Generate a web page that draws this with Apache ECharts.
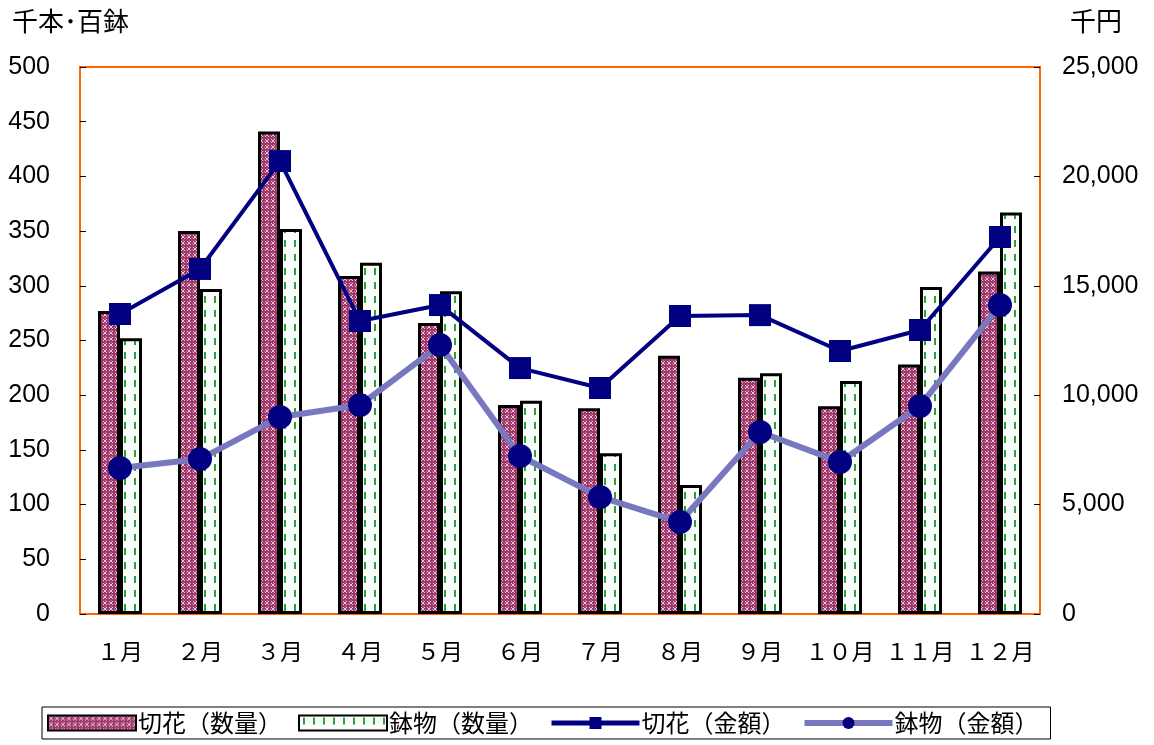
<!DOCTYPE html>
<html>
<head>
<meta charset="utf-8">
<script src="https://cdn.jsdelivr.net/npm/echarts@6/dist/echarts.min.js"></script>
<style>
  html, body { margin: 0; padding: 0; background: #fff; }
  #chart { width: 1154px; height: 745px; }
</style>
</head>
<body>
<div id="chart"></div>
<script>
// data
var months = ["１月", "２月", "３月", "４月", "５月", "６月", "７月", "８月", "９月", "１０月", "１１月", "１２月"];
var cutQty = [277, 350, 441, 309, 266, 191, 188, 236, 216, 190, 228, 313];
var potQty = [252, 297, 352, 321, 295, 195, 147, 118, 220, 213, 299, 367];
var cutAmt = [13710, 15770, 20700, 13390, 14120, 11240, 10330, 13620, 13660, 12020, 12980, 17230];
var potAmt = [6670, 7080, 9000, 9550, 12290, 7220, 5350, 4200, 8320, 6950, 9510, 14120];
var leftTicks = [0, 500, 50];
var rightTicks = [0, 25000, 5000];

// fill patterns like the old excel chart
function makePink() {
  var c = document.createElement("canvas");
  c.width = 6; c.height = 6;
  var g = c.getContext("2d");
  g.fillStyle = "#9e386a";
  g.fillRect(0, 0, 6, 6);
  g.fillStyle = "#ecc3d5";
  g.fillRect(1, 1, 1, 1); g.fillRect(4, 1, 1, 1);
  g.fillRect(2, 2, 2, 2);
  g.fillRect(1, 4, 1, 1); g.fillRect(4, 4, 1, 1);
  g.fillStyle = "#c67a9c";
  g.fillRect(0, 3, 1, 1); g.fillRect(3, 0, 1, 1);
  return c;
}
function makeGreen() {
  var c = document.createElement("canvas");
  c.width = 10; c.height = 14;
  var g = c.getContext("2d");
  g.fillStyle = "#fbfdfb";
  g.fillRect(0, 0, 10, 14);
  g.fillStyle = "#2aa336";
  g.fillRect(4, 2, 2, 7);
  return c;
}

var chart = echarts.init(document.getElementById("chart"));
var navy = "#000080";
var orange = "#ff6600";
var font = "Liberation Sans, Arial, sans-serif";
var jp = "Noto Sans CJK JP, sans-serif";

chart.setOption({
  animation: false,
  grid: {
    left: 80, right: 114, top: 67, bottom: 131,
    show: true, borderColor: orange, borderWidth: 2
  },
  graphic: [
    { type: "text", left: 12, top: 8, style: { text: "千本･百鉢", font: "26px " + jp, fill: "#000" } },
    { type: "text", left: 1070, top: 8, style: { text: "千円", font: "26px " + jp, fill: "#000" } }
  ],
  legend: {
    left: 42, top: 707, width: 1040,
    padding: [4, 12, 4, 5],
    borderColor: "#000", borderWidth: 1,
    itemWidth: 88, itemHeight: 15, itemGap: 16,
    textStyle: { fontFamily: jp, fontSize: 24, color: "#000", padding: [0, 0, 0, -3] },
    data: [
      { name: "切花（数量）", icon: "rect" },
      { name: "鉢物（数量）", icon: "rect" },
      { name: "切花（金額）", lineStyle: { width: 5 } },
      { name: "鉢物（金額）", lineStyle: { width: 6 } }
    ]
  },
  xAxis: {
    type: "category",
    data: months,
    axisLine: { lineStyle: { color: orange, width: 2 } },
    axisTick: { inside: true, length: 6, lineStyle: { color: "#555" } },
    axisLabel: { interval: 0, margin: 26, fontFamily: jp, fontSize: 23, color: "#000" }
  },
  yAxis: [
    {
      type: "value", min: leftTicks[0], max: leftTicks[1], interval: leftTicks[2],
      axisLine: { show: true, lineStyle: { color: orange, width: 2 } },
      axisTick: { show: true, inside: true, length: 6, lineStyle: { color: "#000" } },
      splitLine: { show: false },
      axisLabel: { margin: 30, fontFamily: font, fontSize: 25, color: "#000" }
    },
    {
      type: "value", min: rightTicks[0], max: rightTicks[1], interval: rightTicks[2],
      axisLine: { show: true, lineStyle: { color: orange, width: 2 } },
      axisTick: { show: true, inside: true, length: 6, lineStyle: { color: "#000" } },
      splitLine: { show: false },
      axisLabel: {
        margin: 22, fontFamily: font, fontSize: 25, color: "#000",
        formatter: function (v) { return v.toLocaleString("en-US"); }
      }
    }
  ],
  series: [
    {
      name: "切花（数量）", type: "bar", data: cutQty,
      barWidth: 22, barGap: "0%",
      itemStyle: { color: { image: makePink(), repeat: "repeat" }, borderColor: "#000", borderWidth: 3 }
    },
    {
      name: "鉢物（数量）", type: "bar", data: potQty,
      barWidth: 22, barGap: "0%",
      itemStyle: { color: { image: makeGreen(), repeat: "repeat" }, borderColor: "#000", borderWidth: 3 }
    },
    {
      name: "切花（金額）", type: "line", yAxisIndex: 1, data: cutAmt,
      symbol: "rect", symbolSize: 22,
      lineStyle: { color: navy, width: 4 },
      itemStyle: { color: navy }
    },
    {
      name: "鉢物（金額）", type: "line", yAxisIndex: 1, data: potAmt,
      symbol: "circle", symbolSize: 24,
      lineStyle: { color: "#7778c0", width: 6 },
      itemStyle: { color: navy }
    }
  ]
});
</script>
</body>
</html>
